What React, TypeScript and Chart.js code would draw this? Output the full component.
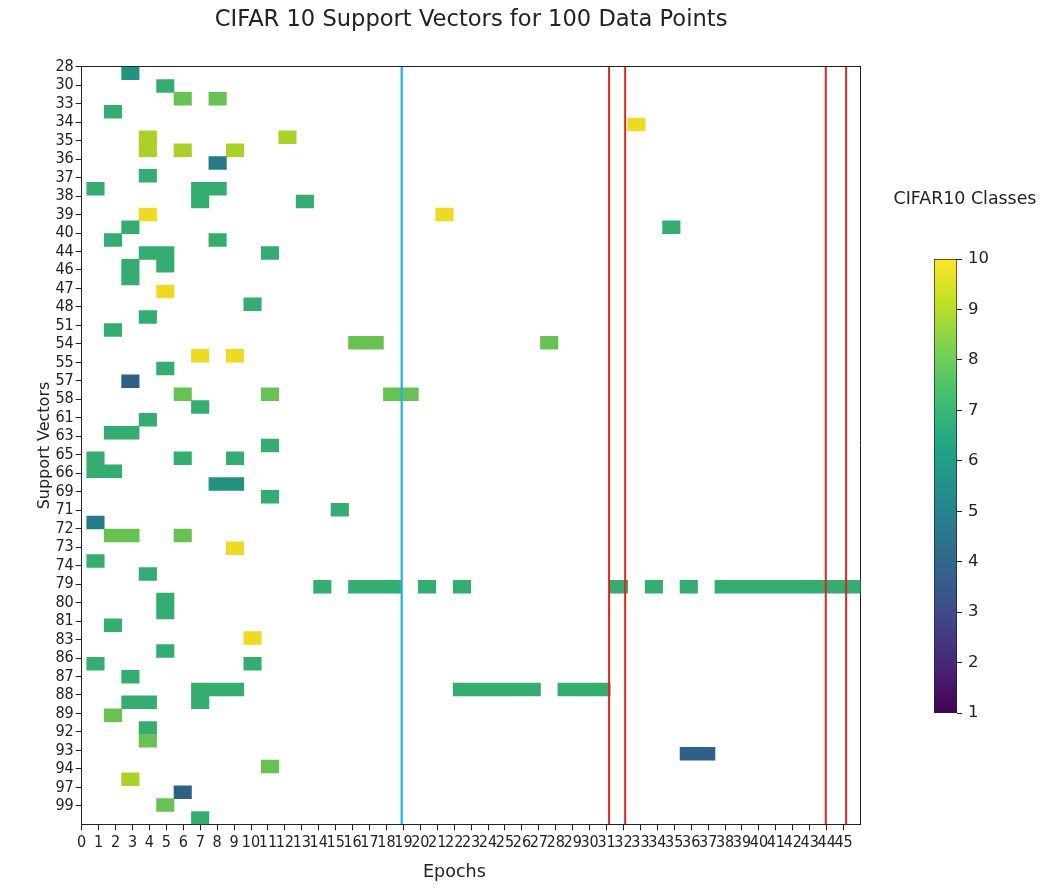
import React, { useEffect, useRef } from "react";
import { Chart, registerables } from "chart.js";

Chart.register(...registerables);

// ---------------- text ----------------
const TITLE = "CIFAR 10 Support Vectors for 100 Data Points";
const X_TITLE = "Epochs\u00a0\u00a0\u00a0\u00a0\u00a0\u00a0";
const Y_TITLE = "Support Vectors";
const CB_TITLE = "CIFAR10 Classes";

// ---------------- tick labels ----------------
const EPOCH_LABELS = [
  "0", "1", "2", "3", "4", "5", "6", "7", "8", "9",
  "10", "11", "12", "13", "14", "15", "16", "17", "18", "19",
  "20", "21", "22", "23", "24", "25", "26", "27", "28", "29",
  "30", "31", "32", "33", "34", "35", "36", "37", "38", "39",
  "40", "41", "42", "43", "44", "45",
];
const SV_LABELS = [
  "28", "30", "33", "34", "35", "36", "37", "38", "39", "40",
  "44", "46", "47", "48", "51", "54", "55", "57", "58", "61",
  "63", "65", "66", "69", "71", "72", "73", "74", "79", "80",
  "81", "83", "86", "87", "88", "89", "92", "93", "94", "97",
  "99",
];
const CB_TICKS = [1, 2, 3, 4, 5, 6, 7, 8, 9, 10];

// ---------------- image grid (rows of the drawn matrix) ----------------
const IMAGE_ROWS = 59;
const IMAGE_COL_MIN = -0.29; // image column units visible at left edge
const IMAGE_COL_MAX = 44.34; // image column units visible at right edge

// ---------------- cells (runs of equal class in one row) ----------------
const CELL_ROW = [
  0, 1, 2, 2, 3, 4, 5, 5, 6, 6,
  6, 7, 8, 9, 9, 10, 10, 11, 11, 12,
  12, 13, 13, 14, 14, 15, 15, 16, 17, 18,
  19, 20, 21, 21, 22, 22, 23, 24, 25, 25,
  25, 26, 27, 28, 29, 30, 30, 30, 31, 32,
  33, 34, 35, 36, 36, 37, 38, 39, 40, 40,
  40, 40, 40, 40, 40, 40, 41, 42, 43, 44,
  45, 46, 46, 47, 48, 48, 48, 49, 49, 50,
  51, 52, 53, 54, 55, 56, 57, 58,
];
const CELL_FROM = [
  2, 4, 5, 7, 1, 31, 3, 11, 3, 5,
  8, 7, 3, 0, 6, 6, 12, 3, 20, 2,
  33, 1, 7, 3, 10, 2, 4, 2, 4, 9,
  3, 1, 15, 26, 6, 8, 4, 2, 5, 10,
  17, 6, 3, 1, 10, 0, 5, 8, 0, 7,
  10, 14, 0, 1, 5, 8, 0, 3, 13, 15,
  19, 21, 30, 32, 34, 36, 4, 4, 1, 9,
  4, 0, 9, 2, 6, 21, 27, 2, 6, 1,
  3, 3, 34, 10, 2, 5, 4, 6,
];
const CELL_TO = [
  2, 4, 5, 7, 1, 31, 3, 11, 3, 5,
  8, 7, 3, 0, 7, 6, 12, 3, 20, 2,
  33, 1, 7, 4, 10, 2, 4, 2, 4, 9,
  3, 1, 16, 26, 6, 8, 4, 2, 5, 10,
  18, 6, 3, 2, 10, 0, 5, 8, 1, 8,
  10, 14, 0, 2, 5, 8, 0, 3, 13, 17,
  19, 21, 30, 32, 34, 44, 4, 4, 1, 9,
  4, 0, 9, 2, 8, 25, 29, 3, 6, 1,
  3, 3, 35, 10, 2, 5, 4, 6,
];
const CELL_CLASS = [
  6, 7, 8, 8, 7, 10, 9, 9, 9, 9,
  9, 5, 7, 7, 7, 7, 7, 10, 10, 7,
  7, 7, 7, 7, 7, 7, 7, 7, 10, 7,
  7, 7, 8, 8, 10, 10, 7, 4, 8, 8,
  8, 7, 7, 7, 7, 7, 7, 7, 7, 6,
  7, 7, 5, 8, 8, 10, 7, 7, 7, 7,
  7, 7, 7, 7, 7, 7, 7, 7, 7, 10,
  7, 7, 7, 7, 7, 7, 7, 7, 7, 8,
  7, 8, 4, 8, 9, 4, 8, 7,
];

// ---------------- marker lines (epoch positions) ----------------
const BLUE_LINES = [18.9];
const RED_LINES = [31.15, 32.1, 43.95, 45.15];

// ---------------- colormap ----------------
const VIRIDIS = [
  "#440154", "#482475", "#414487", "#355f8d", "#2a788e", "#21918c",
  "#22a884", "#44bf70", "#7ad151", "#bddf26", "#fde725",
];
const CLASS_MIN = 1;
const CLASS_MAX = 10;

function hexToRgb(h: string) {
  const n = parseInt(h.slice(1), 16);
  return [(n >> 16) & 255, (n >> 8) & 255, n & 255];
}
function viridis(t: number) {
  const n = VIRIDIS.length - 1;
  const x = Math.min(Math.max(t, 0), 1) * n;
  const i = Math.min(Math.floor(x), n - 1);
  const f = x - i;
  const a = hexToRgb(VIRIDIS[i]);
  const b = hexToRgb(VIRIDIS[i + 1]);
  // slight darkening, matching the rendered cells of the reference
  const c = a.map((v, k) => Math.round((v + (b[k] - v) * f) * 0.94));
  return `rgb(${c[0]},${c[1]},${c[2]})`;
}
function classColor(v: number) {
  return viridis((v - CLASS_MIN) / (CLASS_MAX - CLASS_MIN));
}

const TICK_FONT = "'DejaVu Sans Condensed', 'DejaVu Sans', sans-serif";
const TEXT_FONT = "'DejaVu Sans', sans-serif";
const INK = "#222222";

export default function App() {
  const mainRef = useRef<HTMLCanvasElement | null>(null);
  const cbRef = useRef<HTMLCanvasElement | null>(null);

  useEffect(() => {
    const rowIds = Array.from({ length: IMAGE_ROWS }, (_, i) => String(i));
    const cells = CELL_ROW.map((r, i) => ({
      y: String(r),
      x: [CELL_FROM[i], CELL_TO[i] + 1],
    }));
    const cellColors = CELL_CLASS.map((v) => classColor(v));

    const lineSet = (x: number, color: string, width: number) => ({
      type: "line" as const,
      xAxisID: "x",
      yAxisID: "yl",
      data: [
        { x, y: 0 },
        { x, y: SV_LABELS.length },
      ],
      borderColor: color,
      borderWidth: width,
      pointRadius: 0,
      fill: false,
      order: 0,
    });

    const main = new Chart(mainRef.current as HTMLCanvasElement, {
      type: "bar",
      data: {
        datasets: [
          {
            type: "bar",
            indexAxis: "y",
            xAxisID: "xc",
            yAxisID: "yr",
            data: cells as any,
            backgroundColor: cellColors,
            borderWidth: 0,
            grouped: false,
            barPercentage: 1,
            categoryPercentage: 1,
            order: 1,
          } as any,
          ...BLUE_LINES.map((x) => lineSet(x, "#1db1f2", 2.2)),
          ...RED_LINES.map((x) => lineSet(x, "#e1251b", 2)),
        ],
      },
      options: {
        animation: false,
        responsive: false,
        maintainAspectRatio: false,
        devicePixelRatio: 1,
        events: [],
        layout: { padding: { left: 0, right: 184.5, top: 0, bottom: 0 } },
        plugins: {
          legend: { display: false },
          tooltip: { enabled: false },
          title: {
            display: true,
            text: TITLE,
            fullSize: false,
            color: INK,
            font: { family: TEXT_FONT, size: 22.6, weight: "normal" },
            padding: { top: 7, bottom: 32.6 },
          },
        },
        scales: {
          xc: {
            type: "linear",
            axis: "x",
            display: false,
            min: IMAGE_COL_MIN,
            max: IMAGE_COL_MAX,
            offset: false,
          },
          yr: {
            type: "category",
            axis: "y",
            display: false,
            labels: rowIds,
            offset: true,
          },
          x: {
            type: "linear",
            axis: "x",
            position: "bottom",
            min: 0,
            max: 46,
            offset: false,
            afterBuildTicks: (s: any) => {
              s.ticks = EPOCH_LABELS.map((_, i) => ({ value: i }));
            },
            afterFit: (s: any) => {
              s.height = 888 - 824.3;
            },
            ticks: {
              autoSkip: false,
              maxRotation: 0,
              minRotation: 0,
              padding: 3,
              color: INK,
              font: { family: TICK_FONT, size: 16 },
              callback: (v: any) => EPOCH_LABELS[v] ?? "",
            },
            grid: {
              drawOnChartArea: false,
              drawTicks: true,
              tickLength: 6,
              color: INK,
              offset: false,
            },
            border: { display: true, color: INK, width: 1 },
            title: {
              display: true,
              text: X_TITLE,
              color: INK,
              font: { family: TEXT_FONT, size: 17.5 },
              padding: { top: 0, bottom: 5.5 },
            },
          },
          yl: {
            type: "linear",
            axis: "y",
            position: "left",
            min: 0,
            max: SV_LABELS.length,
            reverse: true,
            offset: false,
            afterBuildTicks: (s: any) => {
              s.ticks = SV_LABELS.map((_, i) => ({ value: i }));
            },
            afterFit: (s: any) => {
              s.width = 81.7;
            },
            ticks: {
              autoSkip: false,
              padding: 2,
              color: INK,
              font: { family: TICK_FONT, size: 16 },
              callback: (v: any) => SV_LABELS[v] ?? "",
            },
            grid: {
              drawOnChartArea: false,
              drawTicks: true,
              tickLength: 6,
              color: INK,
              offset: false,
            },
            border: { display: true, color: INK, width: 1 },
            title: {
              display: true,
              text: Y_TITLE,
              color: INK,
              font: { family: TEXT_FONT, size: 16 },
              padding: { top: 35.4, bottom: 0 },
            },
          },
          xTop: {
            type: "linear",
            axis: "x",
            position: "top",
            min: 0,
            max: 46,
            offset: false,
            afterFit: (s: any) => {
              s.height = 0;
            },
            ticks: { display: false },
            grid: { drawOnChartArea: false, drawTicks: false },
            border: { display: true, color: INK, width: 1 },
          },
          yRight: {
            type: "linear",
            axis: "y",
            position: "right",
            min: 0,
            max: 1,
            offset: false,
            afterFit: (s: any) => {
              s.width = 0;
            },
            ticks: { display: false },
            grid: { drawOnChartArea: false, drawTicks: false },
            border: { display: true, color: INK, width: 1 },
          },
        } as any,
      },
    });

    const cb = new Chart(cbRef.current as HTMLCanvasElement, {
      type: "bar",
      data: {
        labels: [""],
        datasets: [
          {
            xAxisID: "x",
            yAxisID: "y",
            data: [[CLASS_MIN, CLASS_MAX]] as any,
            backgroundColor: (c: any) => {
              const area = c.chart.chartArea;
              if (!area) return VIRIDIS[5];
              const g = c.chart.ctx.createLinearGradient(0, area.bottom, 0, area.top);
              VIRIDIS.forEach((col, i) => g.addColorStop(i / (VIRIDIS.length - 1), col));
              return g;
            },
            borderColor: INK,
            borderWidth: 1,
            borderSkipped: false,
            barPercentage: 1,
            categoryPercentage: 1,
          } as any,
        ],
      },
      options: {
        animation: false,
        responsive: false,
        maintainAspectRatio: false,
        devicePixelRatio: 1,
        events: [],
        layout: { padding: { left: 0, right: 0, top: 0, bottom: 27 } },
        plugins: {
          legend: { display: false },
          tooltip: { enabled: false },
          title: {
            display: true,
            text: CB_TITLE,
            color: INK,
            font: { family: TEXT_FONT, size: 17.4, weight: "normal" },
            padding: { top: 8.6, bottom: 49.6 },
          },
        },
        scales: {
          x: { type: "category", display: false },
          y: {
            type: "linear",
            position: "right",
            min: CLASS_MIN,
            max: CLASS_MAX,
            afterBuildTicks: (s: any) => {
              s.ticks = CB_TICKS.map((v) => ({ value: v }));
            },
            afterFit: (s: any) => {
              s.width = 88;
            },
            ticks: {
              color: INK,
              padding: 6,
              font: { family: TEXT_FONT, size: 16.5 },
            },
            grid: { drawOnChartArea: false, drawTicks: true, tickLength: 5, color: INK },
            border: { display: false },
          },
          padL: {
            type: "linear",
            axis: "y",
            position: "left",
            min: 0,
            max: 1,
            afterFit: (s: any) => {
              s.width = 49;
            },
            ticks: { display: false },
            grid: { display: false, drawTicks: false },
            border: { display: false },
          },
        } as any,
      },
    });

    return () => {
      main.destroy();
      cb.destroy();
    };
  }, []);

  return (
    <div
      style={{
        position: "fixed",
        left: 0,
        top: 0,
        width: 1045,
        height: 888,
        background: "#ffffff",
      }}
    >
      <canvas
        ref={mainRef}
        width={1045}
        height={888}
        style={{ position: "absolute", left: 0, top: 0 }}
      />
      <canvas
        ref={cbRef}
        width={160}
        height={560}
        style={{ position: "absolute", left: 885, top: 180 }}
      />
    </div>
  );
}
